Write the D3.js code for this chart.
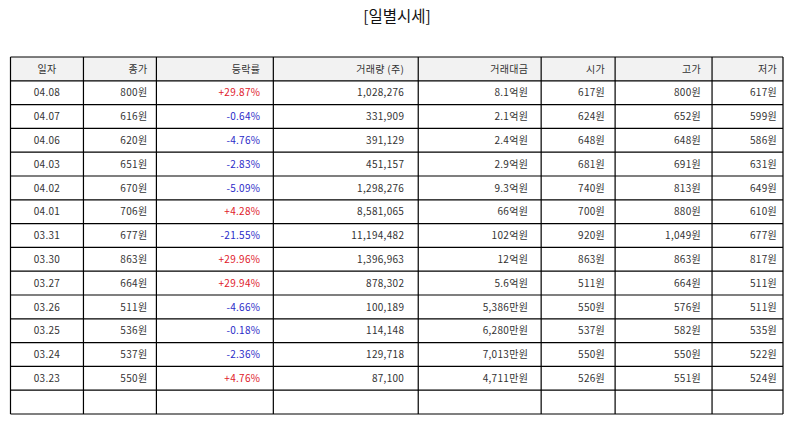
<!DOCTYPE html>
<html>
<head>
<meta charset="utf-8">
<script src="https://cdn.jsdelivr.net/npm/d3@7"></script>
<style>
  body { margin: 0; background: #fff; }
  text { font-family: "Noto Sans CJK KR", "Noto Sans", sans-serif; }
</style>
</head>
<body>
<svg id="chart"></svg>
<script>
// table data
const headers = ["일자", "종가", "등락률", "거래량 (주)", "거래대금", "시가", "고가", "저가"];
const dates = ["04.08", "04.07", "04.06", "04.03", "04.02", "04.01", "03.31", "03.30", "03.27", "03.26", "03.25", "03.24", "03.23"];
const closes = [800, 616, 620, 651, 670, 706, 677, 863, 664, 511, 536, 537, 550];
const changes = [29.87, -0.64, -4.76, -2.83, -5.09, 4.28, -21.55, 29.96, 29.94, -4.66, -0.18, -2.36, 4.76];
const volumes = [1028276, 331909, 391129, 451157, 1298276, 8581065, 11194482, 1396963, 878302, 100189, 114148, 129718, 87100];
const amounts = ["8.1억원", "2.1억원", "2.4억원", "2.9억원", "9.3억원", "66억원", "102억원", "12억원", "5.6억원", "5,386만원", "6,280만원", "7,013만원", "4,711만원"];
const opens = [617, 624, 648, 681, 740, 700, 920, 863, 511, 550, 537, 550, 526];
const highs = [800, 652, 648, 691, 813, 880, 1049, 863, 664, 576, 582, 550, 551];
const lows = [617, 599, 586, 631, 649, 610, 677, 817, 511, 511, 535, 522, 524];
const emptyRows = 1;

const width = 794, height = 425;
const margin = {top: 57, left: 10.5, right: 11, bottom: 11};
// relative column widths
const colWidths = [73, 73, 117, 145, 123, 74, 97, 71];
const colPad = [0, 9, 13, 14, 13, 10, 11, 6];

const svg = d3.select("#chart").attr("width", width).attr("height", height);

const fmtWon = d => d3.format(",")(d) + "원";
const fmtPct = d => (d > 0 ? "+" : "") + d.toFixed(2) + "%";

const rows = dates.map((d, i) => ({
  cells: [d, fmtWon(closes[i]), fmtPct(changes[i]), d3.format(",")(volumes[i]), amounts[i],
          fmtWon(opens[i]), fmtWon(highs[i]), fmtWon(lows[i])],
  change: changes[i]
}));
for (let i = 0; i < emptyRows; i++) rows.push({cells: headers.map(() => ""), change: 0});

// column scale: cumulative edges mapped onto pixel range
const totalW = d3.sum(colWidths);
const xScale = d3.scaleLinear().domain([0, totalW]).range([margin.left, width - margin.right]);
const edges = d3.cumsum([0, ...colWidths]);
const colX0 = i => xScale(edges[i]);
const colX1 = i => xScale(edges[i + 1]);

const yScale = d3.scaleBand()
  .domain(d3.range(rows.length + 1))
  .range([margin.top, height - margin.bottom]);

// title
svg.append("text")
  .attr("x", width / 2)
  .attr("y", 18)
  .attr("text-anchor", "middle")
  .attr("dominant-baseline", "middle")
  .attr("font-size", 15.5)
  .attr("fill", "#111")
  .text("[일별시세]");

// header background
svg.append("rect")
  .attr("x", xScale(0)).attr("y", yScale(0))
  .attr("width", xScale(totalW) - xScale(0)).attr("height", yScale.bandwidth())
  .attr("fill", "#f2f2f2");

const allRows = [{cells: headers, change: 0, header: true}, ...rows];

const rowG = svg.selectAll(".row")
  .data(allRows)
  .join("g")
  .attr("class", "row")
  .attr("transform", (d, i) => `translate(0,${yScale(i)})`);

rowG.selectAll("text")
  .data(d => d.cells.map((c, j) => ({c, j, change: d.change, header: d.header})))
  .join("text")
  .attr("x", d => d.j === 0 ? (colX0(0) + colX1(0)) / 2 : colX1(d.j) - colPad[d.j])
  .attr("y", yScale.bandwidth() / 2 + 1)
  .attr("text-anchor", d => d.j === 0 ? "middle" : "end")
  .attr("dominant-baseline", "middle")
  .attr("font-size", 10)
  .attr("letter-spacing", 0.3)
  .attr("fill", d => {
    if (d.j === 2 && !d.header) return d.change > 0 ? "#e0202a" : "#2b2bc8";
    return "#333";
  })
  .text(d => d.c);

// grid lines
const grid = svg.append("g").attr("stroke", "#000").attr("stroke-width", 1.2);
grid.selectAll(".h")
  .data(d3.range(allRows.length + 1))
  .join("line")
  .attr("x1", xScale(0)).attr("x2", xScale(totalW))
  .attr("y1", i => i < allRows.length ? yScale(i) : yScale(allRows.length - 1) + yScale.bandwidth())
  .attr("y2", i => i < allRows.length ? yScale(i) : yScale(allRows.length - 1) + yScale.bandwidth());
grid.selectAll(".v")
  .data(edges)
  .join("line")
  .attr("x1", d => xScale(d)).attr("x2", d => xScale(d))
  .attr("y1", margin.top).attr("y2", height - margin.bottom);
</script>
</body>
</html>
